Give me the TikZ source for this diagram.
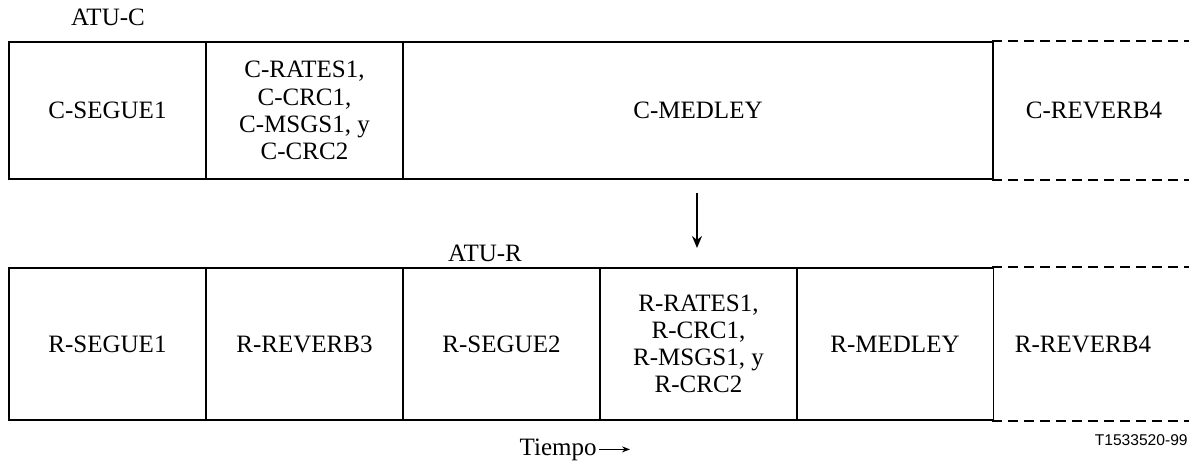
\documentclass[tikz,border=0pt]{standalone}
\usepackage{fontspec}
\setmainfont{Liberation Serif}
\newfontfamily\labsans{Liberation Sans}
\usetikzlibrary{arrows.meta}
\begin{document}
\begin{tikzpicture}[x=0.5pt,y=-0.5pt,
  cell/.style={draw,line width=0.8pt,minimum width=98.5pt,inner sep=0pt,align=center,font=\fontsize{12.5}{13.6}\selectfont},
  topcell/.style={cell,minimum height=68.5pt},
  botcell/.style={cell,minimum height=76pt},
  lab/.style={font=\fontsize{12.5}{14}\selectfont,inner sep=0pt},
  dashline/.style={dash pattern=on 5pt off 3pt,line width=0.8pt}]
\useasboundingbox (0,0) rectangle (1193,464);
% top row
\node[lab] (atuc) at (108,17) {ATU-C};
\node[topcell] (c1) at (107.5,110.5) {C-SEGUE1};
\node[topcell] (c2) at (304.5,110.5) {C-RATES1,\\C-CRC1,\\C-MSGS1, y\\C-CRC2};
\node[topcell,minimum width=295pt] (c3) at (698,110.5) {C-MEDLEY};
\node[topcell,draw=none,minimum width=97.5pt] (c4) at (1090.5,110.5) {};
\node[lab] (c4t) at (1094,110.5) {C-REVERB4};
\draw[dashline] (c4.north west) -- (c4.north east);
\draw[dashline] (c4.south west) -- (c4.south east);
% arrow
\coordinate (a1) at (697,193);
\coordinate (a2) at (697,248);
\draw[line width=0.8pt,-{Stealth[length=6pt,width=5pt]}] (a1) -- (a2);
% bottom row
\node[lab] (atur) at (485,253) {ATU-R};
\node[botcell] (r1) at (107.5,344) {R-SEGUE1};
\node[botcell] (r2) at (304.5,344) {R-REVERB3};
\node[botcell] (r3) at (501.5,344) {R-SEGUE2};
\node[botcell] (r4) at (698.5,344) {R-RATES1,\\R-CRC1,\\R-MSGS1, y\\R-CRC2};
\node[botcell] (r5) at (895,344) {R-MEDLEY};
\node[botcell,draw=none,minimum width=97.5pt] (r6) at (1090.5,344) {};
\node[lab] (r6t) at (1083,344) {R-REVERB4};
\draw[dashline] (r6.north west) -- (r6.north east);
\draw[dashline] (r6.south west) -- (r6.south east);
% time
\node[lab,anchor=base east] (tiempo) at (597,455) {Tiempo};
\coordinate (t2) at (630,448);
\draw[line width=0.6pt,-{Stealth[length=4pt,width=3pt]}] ([xshift=1pt]tiempo.east) -- (t2 |- tiempo.east);
\node[font=\labsans\fontsize{7.8}{9}\selectfont,anchor=east,inner sep=0pt] (code) at (1188,440) {T1533520-99};
\end{tikzpicture}
\end{document}
